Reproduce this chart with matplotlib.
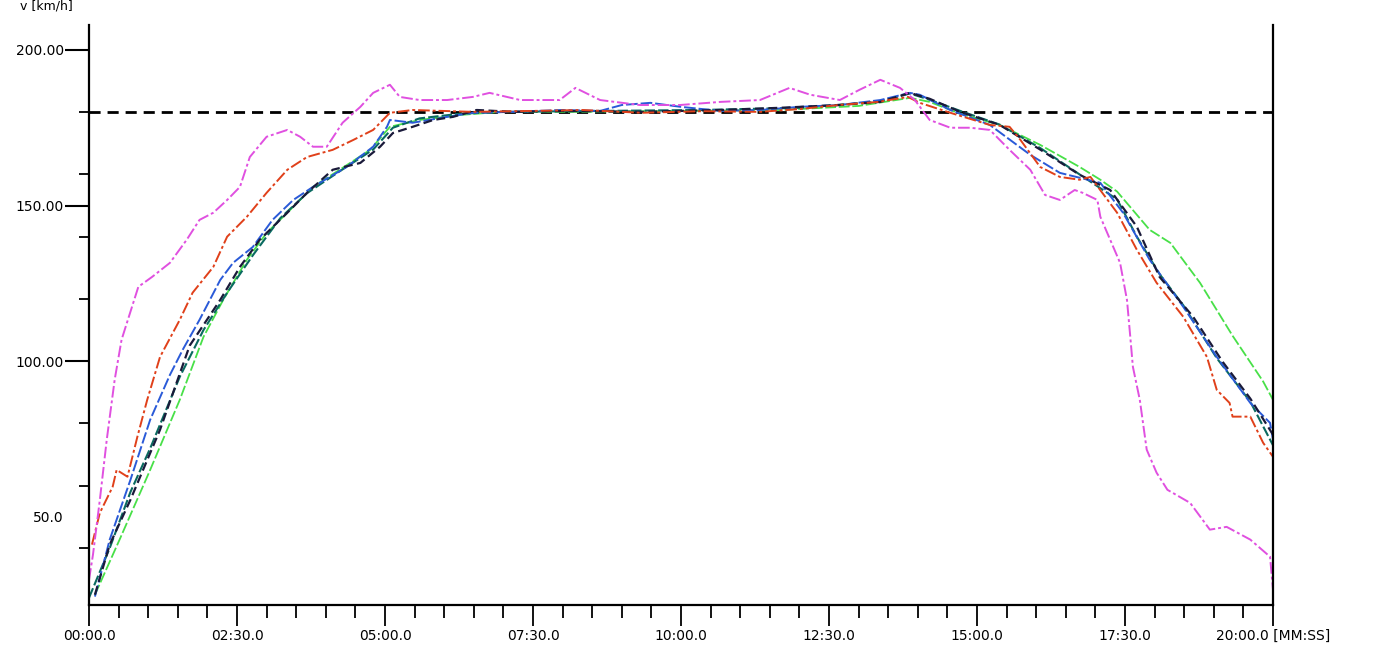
import matplotlib
matplotlib.use('Agg')
import matplotlib.pyplot as plt
from matplotlib.ticker import MultipleLocator, FixedLocator

# time in seconds, speed in km/h
t_magenta = [0, 4, 11, 18, 26, 33, 50, 64, 82, 99, 112, 126, 140, 153, 163, 180, 201, 214, 227, 241,
             257, 275, 288, 305, 315, 335, 363, 389, 406, 437, 477, 493, 518, 558, 599, 640, 680, 710,
             731, 761, 781, 802, 822, 837, 852, 873, 893, 913, 933, 954, 969, 984, 999, 1007, 1022,
             1025, 1035, 1045, 1052, 1055, 1058, 1065, 1072, 1082, 1093, 1116, 1136, 1153, 1177, 1197, 1200]
v_magenta = [29.8, 37.8, 55.5, 74.8, 94.0, 106.9, 123.9, 127.1, 131.6, 139.0, 145.4, 147.7, 151.8, 156.0,
             165.6, 172.1, 174.3, 172.1, 168.9, 168.9, 176.6, 181.7, 186.2, 188.8, 184.9, 183.9, 183.9,
             184.9, 186.2, 183.9, 183.9, 187.8, 183.9, 182.3, 182.3, 183.3, 183.9, 187.8, 185.6, 183.9,
             187.2, 190.4, 187.8, 183.9, 177.5, 175.0, 175.0, 174.3, 167.9, 161.5, 153.4, 151.8, 155.0,
             154.1, 151.8, 146.4, 139.0, 131.6, 119.7, 109.1, 98.2, 87.6, 71.6, 64.2, 58.7, 54.5, 45.9,
             46.8, 42.7, 37.2, 26.6]

t_red = [3, 11, 24, 28, 39, 49, 59, 72, 92, 105, 126, 140, 160, 180, 201, 221, 247, 268, 288, 305, 328,
         389, 450, 500, 560, 620, 680, 720, 760, 800, 830, 842, 873, 913, 933, 944, 964, 984, 1004, 1015,
         1042, 1062, 1082, 1109, 1133, 1143, 1156, 1159, 1177, 1190, 1200]
v_red = [41.1, 51.3, 59.7, 65.1, 62.9, 75.7, 87.6, 101.4, 113.3, 122.0, 130.3, 140.0, 146.4, 154.1, 161.5,
         165.6, 167.9, 171.1, 174.3, 179.8, 180.7, 180.1, 180.4, 180.7, 179.8, 180.3, 180.1, 181.0, 182.3,
         183.3, 184.9, 183.0, 179.8, 175.9, 175.3, 171.1, 162.4, 159.2, 158.3, 159.2, 147.7, 135.8, 125.2,
         114.3, 101.4, 90.8, 86.6, 82.2, 82.2, 73.8, 69.3]

t_blue = [6, 21, 42, 62, 82, 95, 112, 133, 146, 166, 186, 207, 227, 261, 288, 302, 305, 328, 363, 389,
          430, 480, 518, 540, 569, 600, 640, 680, 720, 761, 802, 832, 842, 873, 913, 954, 984, 1025, 1048,
          1075, 1109, 1143, 1177, 1197, 1200]
v_blue = [24.4, 42.7, 61.9, 81.2, 95.6, 103.7, 113.3, 126.1, 131.6, 136.7, 145.4, 151.8, 156.0, 162.4,
          168.9, 175.3, 177.5, 176.6, 178.5, 179.8, 180.1, 180.7, 180.4, 182.3, 183.0, 181.7, 180.4, 180.7,
          181.7, 182.3, 183.9, 186.2, 185.6, 180.7, 175.9, 166.3, 160.5, 157.3, 147.7, 132.6, 117.5, 101.4,
          86.6, 80.2, 74.8]

t_black = [6, 21, 42, 72, 102, 133, 153, 173, 201, 221, 247, 275, 295, 308, 328, 349, 369, 393, 430, 480,
           560, 640, 700, 760, 802, 832, 852, 883, 923, 964, 1004, 1035, 1062, 1085, 1119, 1149, 1177, 1200]
v_black = [25.0, 41.1, 55.5, 78.0, 105.0, 119.7, 130.3, 139.0, 147.7, 154.1, 161.5, 163.7, 168.9, 173.3,
           175.3, 177.5, 178.5, 180.7, 180.1, 180.4, 180.1, 180.7, 181.4, 182.3, 183.3, 186.2, 184.3, 180.1,
           175.9, 168.0, 159.9, 155.0, 143.2, 127.1, 114.3, 99.8, 88.0, 76.4]

t_green = [6, 31, 62, 92, 116, 136, 160, 180, 201, 227, 254, 285, 305, 335, 376, 417, 500, 600, 700, 780,
           832, 852, 883, 923, 964, 1004, 1025, 1042, 1075, 1096, 1126, 1159, 1190, 1200]
v_green = [25.0, 42.7, 65.1, 87.6, 107.8, 119.7, 132.6, 141.2, 147.7, 156.0, 161.5, 167.9, 175.3, 177.5,
           179.1, 180.1, 180.1, 180.4, 180.7, 182.0, 184.6, 183.3, 179.5, 175.9, 169.5, 162.4, 158.3, 154.5,
           142.2, 138.0, 125.2, 108.2, 93.5, 87.6]

t_teal = [0, 21, 42, 62, 92, 116, 140, 166, 194, 221, 254, 288, 308, 335, 376, 420, 520, 620, 720, 800,
          832, 852, 883, 923, 964, 1004, 1042, 1062, 1085, 1109, 1143, 1177, 1200]
v_teal = [24.0, 40.0, 58.0, 72.0, 95.0, 110.0, 122.0, 134.0, 146.0, 154.0, 161.0, 168.0, 175.0, 178.0,
          179.5, 180.1, 180.4, 180.7, 181.4, 183.3, 186.0, 184.0, 180.4, 176.0, 168.5, 160.0, 152.0, 140.0,
          128.0, 118.0, 101.0, 87.0, 73.0]

v_limit = 180

x_major = [0, 150, 300, 450, 600, 750, 900, 1050, 1200]
x_labels = ['00:00.0', '02:30.0', '05:00.0', '07:30.0', '10:00.0', '12:30.0', '15:00.0', '17:30.0',
            '20:00.0 [MM:SS]']
y_major = [50, 100, 150, 200]
y_labels = ['50.0', '100.00', '150.00', '200.00']
y_minor = [40, 60, 80, 120, 140, 160, 180]

fig = plt.figure(figsize=(13.86, 6.48), dpi=100)
ax = fig.add_axes([89 / 1386, 43 / 648, 1184 / 1386, 580 / 648])

ax.axhline(v_limit, color='black', linestyle=(0, (4, 2.5)), linewidth=2)

ax.plot(t_green, v_green, color='#48e048', linewidth=1.3, linestyle=(0, (6, 1.5)))
ax.plot(t_teal, v_teal, color='#0a6a60', linewidth=1.5, linestyle=(0, (5, 1.5)))
ax.plot(t_blue, v_blue, color='#2a5ad8', linewidth=1.4, linestyle=(0, (6, 1.5)))
ax.plot(t_black, v_black, color='#1a1a3a', linewidth=1.6, linestyle=(0, (4, 2)))
ax.plot(t_red, v_red, color='#e0401a', linewidth=1.4, linestyle=(0, (6, 1.5, 1.5, 1.5)))
ax.plot(t_magenta, v_magenta, color='#e050e0', linewidth=1.4, linestyle=(0, (6, 1.5, 1.5, 1.5)))

ax.set_xlim(0, 1200)
ax.set_ylim(21.7, 208)

ax.xaxis.set_major_locator(FixedLocator(x_major))
ax.set_xticklabels(x_labels)
ax.xaxis.set_minor_locator(MultipleLocator(30))
ax.yaxis.set_major_locator(FixedLocator(y_major))
ax.set_yticklabels(y_labels)
ax.yaxis.set_minor_locator(FixedLocator(y_minor))

ax.tick_params(axis='x', which='major', length=15, width=1.3, labelsize=10, pad=2)
ax.tick_params(axis='x', which='minor', length=9, width=1.3)
ax.tick_params(axis='y', which='major', length=17, width=1.5, labelsize=10, pad=1)
ax.tick_params(axis='y', which='minor', length=7, width=1.3)
ax.yaxis.get_major_ticks()[0].tick1line.set_visible(False)

ax.spines['top'].set_visible(False)
for side in ['left', 'right', 'bottom']:
    ax.spines[side].set_linewidth(1.6)

fig.text(20 / 1386, 1 - 6 / 648, 'v [km/h]', fontsize=9, va='center', ha='left')

fig.savefig('out.png', dpi=100)
